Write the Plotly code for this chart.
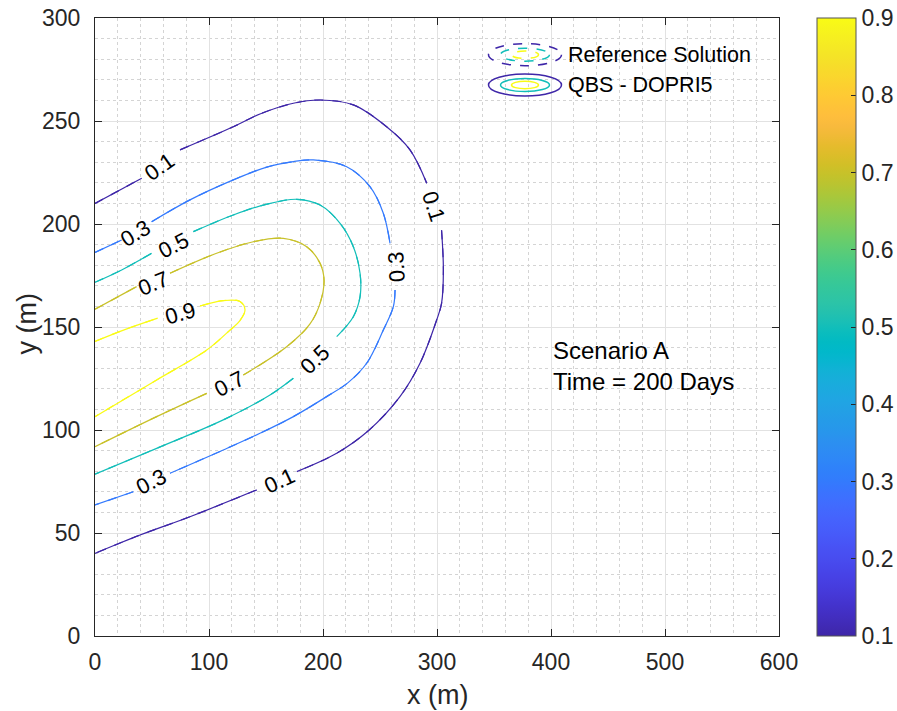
import plotly.graph_objects as go

# ---------------- data ----------------
levels = [0.1, 0.3, 0.5, 0.7, 0.9]

c01_x = [0, 41, None, 74.6, 121.3, 144.7, 174, 197.4, 226.6, 255.8, 276.3, 291, None,
         304, 305.6, 304, 299.7, 285.1, 267.5, 239.5, 212, 177, None,
         141.8, 83.3, 39.5, 0]
c01_y = [210, 222.2, None, 236, 247.2, 253.4, 258.6, 260.2, 257.8, 247.2, 236, 219.8, None,
         197, 177.7, 161.5, 153.4, 132.4, 116.2, 99.5, 88.7, 79.8, None,
         70.9, 57.9, 49, 40.1]

c03_x = [0, 23.4, None, 49.7, 83.3, 121.3, 150, 174, 191.5, 220.8, 241.2, 252.9, 258.8, None,
         263.2, 261.7, 252.9, 238.3, 222, 203.2, 174, 144.7, 112.5, 65.8, None, 33.6, 0]
c03_y = [186.2, 192.2, None, 201.1, 211.7, 221.4, 227.5, 230.3, 231.1, 227.8, 218.1, 205.2, 190.6, None,
         168, 159.9, 148.5, 132.4, 123, 116.2, 106.5, 98.4, 90.3, 79, None, 70, 63.6]

c05_x = [0, 23.4, 49.7, None, 86.3, 121.3, 150, 177, 197.4, 215, 226.6, 232.5, 232.5, 226.6, 212, None,
         174, 153.5, 112.5, 54.1, 0]
c05_y = [171.7, 177.7, 185.8, None, 196.3, 204.4, 209.5, 212, 209.2, 200.3, 189, 176.1, 164.7, 155, 145.3, None,
         125.1, 117, 104.9, 91.1, 78.6]

c07_x = [0, 36.5, None, 65.8, 106.7, 138.9, 165.2, 185.7, 197.4, 200.9, 197.4, 188.6, 168.1, 130.1, None,
         98, 54.1, 0]
c07_y = [158.6, 169.6, None, 176.1, 185.8, 191.4, 193, 189, 180.9, 172.8, 161.5, 151.5, 140.4, 126.7, None,
         117.8, 106.5, 91.9]

c09_x = [0, 25, 55, None, 92.1, 112.5, 127.2, 131.6, 127, 118.4, 98, 54.1, 0]
c09_y = [143, 148.5, 154.3, None, 160.2, 162.8, 162.4, 158.3, 153, 148.5, 138.8, 124.3, 106.5]

contour_x = [c01_x, c03_x, c05_x, c07_x, c09_x]
contour_y = [c01_y, c03_y, c05_y, c07_y, c09_y]

# contour label texts and where they sit (x, y, angle)
label_text = ["0.1", "0.1", "0.1", "0.3", "0.3", "0.3", "0.5", "0.5", "0.7", "0.7", "0.9"]
label_x = [57, 297, 162, 35.1, 264.6, 49.7, 68.7, 193, 51.2, 118.4, 74.6]
label_y = [228, 208.4, 75.7, 195.5, 179.3, 74.9, 189.8, 134, 171.2, 122.7, 156.6]
label_angle = [-35, 72, -25, -31, -93, -27, -27, -44, -22, -27, -16]

cbar_ticks = [0.1, 0.2, 0.3, 0.4, 0.5, 0.6, 0.7, 0.8, 0.9]
x_ticks = [0, 100, 200, 300, 400, 500, 600]
y_ticks = [0, 50, 100, 150, 200, 250, 300]

# ---------------- style ----------------
PARULA = [
    (0.2422, 0.1504, 0.6603), (0.2504, 0.1650, 0.7076), (0.2578, 0.1818, 0.7511), (0.2647, 0.1978, 0.7952),
    (0.2706, 0.2147, 0.8364), (0.2751, 0.2342, 0.8710), (0.2783, 0.2559, 0.8991), (0.2803, 0.2782, 0.9221),
    (0.2813, 0.3006, 0.9414), (0.2810, 0.3228, 0.9579), (0.2795, 0.3447, 0.9717), (0.2760, 0.3667, 0.9829),
    (0.2699, 0.3892, 0.9906), (0.2602, 0.4123, 0.9952), (0.2440, 0.4358, 0.9988), (0.2206, 0.4603, 0.9973),
    (0.1963, 0.4847, 0.9892), (0.1834, 0.5074, 0.9798), (0.1786, 0.5289, 0.9682), (0.1764, 0.5499, 0.9520),
    (0.1687, 0.5703, 0.9359), (0.1540, 0.5902, 0.9218), (0.1460, 0.6091, 0.9079), (0.1380, 0.6276, 0.8973),
    (0.1248, 0.6459, 0.8883), (0.1113, 0.6635, 0.8763), (0.0952, 0.6798, 0.8598), (0.0689, 0.6948, 0.8394),
    (0.0297, 0.7082, 0.8163), (0.0036, 0.7203, 0.7917), (0.0067, 0.7312, 0.7660), (0.0433, 0.7411, 0.7394),
    (0.0964, 0.7500, 0.7120), (0.1408, 0.7584, 0.6842), (0.1717, 0.7670, 0.6554), (0.1938, 0.7758, 0.6251),
    (0.2161, 0.7843, 0.5923), (0.2470, 0.7918, 0.5567), (0.2906, 0.7973, 0.5188), (0.3406, 0.8008, 0.4789),
    (0.3909, 0.8029, 0.4354), (0.4456, 0.8024, 0.3909), (0.5044, 0.7993, 0.3480), (0.5616, 0.7942, 0.3045),
    (0.6174, 0.7876, 0.2612), (0.6720, 0.7793, 0.2227), (0.7242, 0.7698, 0.1910), (0.7738, 0.7598, 0.1646),
    (0.8203, 0.7498, 0.1535), (0.8634, 0.7406, 0.1596), (0.9035, 0.7330, 0.1774), (0.9393, 0.7288, 0.2100),
    (0.9728, 0.7298, 0.2394), (0.9956, 0.7434, 0.2371), (0.9970, 0.7659, 0.2199), (0.9952, 0.7893, 0.2028),
    (0.9892, 0.8136, 0.1885), (0.9786, 0.8386, 0.1766), (0.9676, 0.8639, 0.1643), (0.9610, 0.8890, 0.1537),
    (0.9597, 0.9135, 0.1423), (0.9628, 0.9373, 0.1265), (0.9691, 0.9606, 0.1064), (0.9769, 0.9839, 0.0805),
]


def rgb(c):
    return "rgb(%d,%d,%d)" % tuple(round(v * 255) for v in c)


def parula_at(t):
    t = min(max(t, 0.0), 1.0)
    f = t * (len(PARULA) - 1)
    i = int(f)
    if i >= len(PARULA) - 1:
        return rgb(PARULA[-1])
    w = f - i
    a, b = PARULA[i], PARULA[i + 1]
    return rgb(tuple(a[k] * (1 - w) + b[k] * w for k in range(3)))


colorscale = [[i / (len(PARULA) - 1), rgb(c)] for i, c in enumerate(PARULA)]
CMIN, CMAX = 0.1, 0.9
FONT = "Liberation Sans, Arial, Helvetica, sans-serif"
TXT = "#262626"

fig = go.Figure()

for lvl, xs, ys in zip(levels, contour_x, contour_y):
    col = parula_at((lvl - CMIN) / (CMAX - CMIN))
    # reference solution (dashed)
    fig.add_trace(go.Scatter(x=xs, y=ys, mode="lines", connectgaps=False,
                             line=dict(color=col, width=1.2, dash="dash", shape="spline", smoothing=1.0),
                             showlegend=False, hoverinfo="skip"))
    # QBS - DOPRI5 (solid)
    fig.add_trace(go.Scatter(x=xs, y=ys, mode="lines", connectgaps=False,
                             line=dict(color=col, width=1.2, shape="spline", smoothing=1.0),
                             showlegend=False, hoverinfo="skip"))

# colour bar
cbar = dict(thickness=39, thicknessmode="pixels", len=618, lenmode="pixels",
            x=(817 - 95) / 684, xanchor="left", xpad=0, y=0.5, yanchor="middle", ypad=0,
            outlinewidth=1, outlinecolor="#555555",
            tickvals=cbar_ticks, ticktext=["%.1f" % v for v in cbar_ticks],
            ticks="inside", ticklen=5, tickcolor=TXT,
            tickfont=dict(family=FONT, size=23, color=TXT))
marker_cb = dict(color=[CMIN], cmin=CMIN, cmax=CMAX, colorscale=colorscale, showscale=True, colorbar=cbar)
fig.add_trace(go.Scatter(x=[None], y=[None], mode="markers", showlegend=False, hoverinfo="skip",
                         marker=marker_cb))

# contour labels
for t, x, y, a in zip(label_text, label_x, label_y, label_angle):
    fig.add_annotation(x=x, y=y, xref="x", yref="y", text=t, showarrow=False, textangle=a,
                       font=dict(family=FONT, size=22, color="#000000"))

# scenario text
fig.add_annotation(x=400, y=138.8, xref="x", yref="y", text="Scenario A", showarrow=False,
                   xanchor="left", yanchor="middle", font=dict(family=FONT, size=24, color="#000000"))
fig.add_annotation(x=400, y=123.4, xref="x", yref="y", text="Time = 200 Days", showarrow=False,
                   xanchor="left", yanchor="middle", font=dict(family=FONT, size=24, color="#000000"))

# manual legend (contour icons)
legend_cx = (525 - 95) / 684
legend_rows = [((636 - 54.7) / 618, "dash", "Reference Solution"),
               ((636 - 85) / 618, "solid", "QBS - DOPRI5")]
icon_sizes = [(73, 22, 0.1), (49, 13, 0.5), (27, 7.5, 0.9)]
for cy, dash, name in legend_rows:
    for w, h, lv in icon_sizes:
        fig.add_shape(type="circle", xref="paper", yref="paper", xsizemode="pixel", ysizemode="pixel",
                      xanchor=legend_cx, yanchor=cy, x0=-w / 2, x1=w / 2, y0=-h / 2, y1=h / 2,
                      line=dict(color=parula_at((lv - CMIN) / (CMAX - CMIN)), width=1.5, dash=dash))
    fig.add_annotation(x=(566 - 95) / 684, y=cy, xref="paper", yref="paper", text=name, showarrow=False,
                       xanchor="left", yanchor="middle", font=dict(family=FONT, size=21.5, color="#000000"))

# axis titles
fig.add_annotation(x=0.5, y=(636 - 695) / 618, xref="paper", yref="paper", text="x (m)", showarrow=False,
                   xanchor="center", yanchor="middle", font=dict(family=FONT, size=27, color=TXT))
fig.add_annotation(x=(26.5 - 95) / 684, y=(636 - 324) / 618, xref="paper", yref="paper", text="y (m)",
                   showarrow=False, textangle=-90, xanchor="center", yanchor="middle",
                   font=dict(family=FONT, size=27, color=TXT))

axis_common = dict(showline=True, linecolor=TXT, linewidth=1, mirror="ticks", ticks="inside", ticklen=7,
                   tickcolor=TXT, showgrid=True, gridcolor="#E2E2E2", gridwidth=1, zeroline=False,
                   tickfont=dict(family=FONT, size=23, color=TXT))

fig.update_xaxes(range=[0, 600], tickvals=x_ticks, ticktext=[str(v) for v in x_ticks],
                 minor=dict(dtick=20, tick0=0, showgrid=True, gridcolor="#D4D4D4", griddash="dot", ticks=""),
                 ticklabelstandoff=5, **axis_common)
fig.update_yaxes(range=[0, 300], tickvals=y_ticks, ticktext=[str(v) for v in y_ticks],
                 minor=dict(dtick=10, tick0=0, showgrid=True, gridcolor="#D4D4D4", griddash="dot", ticks=""),
                 ticklabelstandoff=9, **axis_common)

fig.update_layout(width=897, height=711, margin=dict(l=95, r=118, t=18, b=75, autoexpand=False),
                  paper_bgcolor="white", plot_bgcolor="white", showlegend=False, hovermode=False,
                  font=dict(family=FONT, color=TXT))

fig.write_html("out.html")
